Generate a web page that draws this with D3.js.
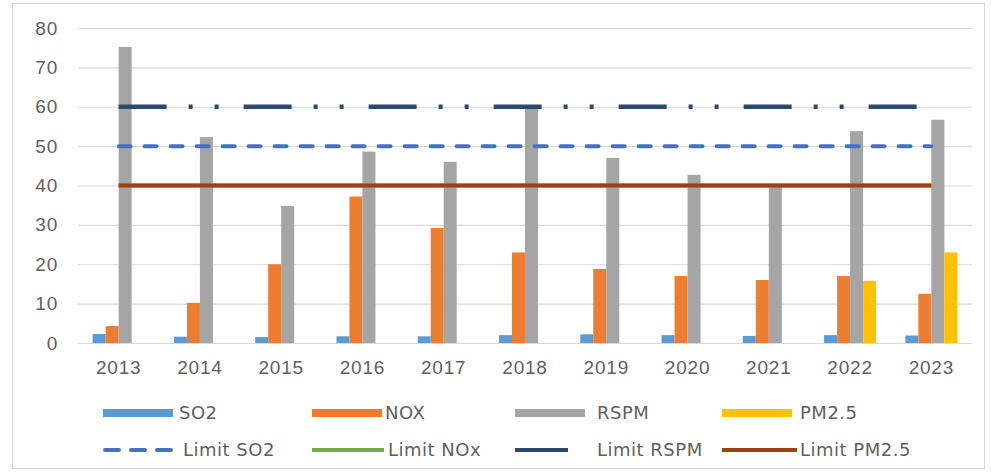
<!DOCTYPE html>
<html>
<head>
<meta charset="utf-8">
<script src="https://cdn.jsdelivr.net/npm/d3@7"></script>
<style>
  html, body { margin: 0; padding: 0; background: #fff; }
  svg { display: block; font-family: "DejaVu Sans", "Open Sans", sans-serif; }
</style>
</head>
<body>
<svg id="chart" width="994" height="474"></svg>
<script>
// Annual pollutant concentrations by year
const years = ["2013","2014","2015","2016","2017","2018","2019","2020","2021","2022","2023"];
const so2   = [2.3, 1.6, 1.5, 1.7, 1.7, 2.0, 2.2, 2.0, 1.8, 2.0, 1.9];
const nox   = [4.3, 10.2, 20, 37.2, 29.2, 23, 18.8, 17, 16, 17, 12.5];
const rspm  = [75.2, 52.3, 34.8, 48.6, 46, 60, 47, 42.7, 39.8, 53.8, 56.7];
const pm25  = [0, 0, 0, 0, 0, 0, 0, 0, 0, 15.8, 23];

// Permissible limits
const limitSO2  = 50;
const limitNOx  = 40;
const limitRSPM = 60;
const limitPM25 = 40;

const yTicks = [0, 10, 20, 30, 40, 50, 60, 70, 80];

const barSeries = [
  { name: "SO2",   values: so2,  color: "#5B9BD5" },
  { name: "NOX",   values: nox,  color: "#ED7D31" },
  { name: "RSPM",  values: rspm, color: "#A5A5A5" },
  { name: "PM2.5", values: pm25, color: "#FFC000" }
];

const limitSeries = [
  { name: "Limit SO2",   value: limitSO2,  color: "#4472C4", width: 4,   dash: "12 14", cap: "round" },
  { name: "Limit NOx",   value: limitNOx,  color: "#70AD47", width: 4,   dash: null,    cap: "butt" },
  { name: "Limit RSPM",  value: limitRSPM, color: "#2A4A6E", width: 4.5, dash: "48 22 4 22 4 25", cap: "butt" },
  { name: "Limit PM2.5", value: limitPM25, color: "#9E3F16", width: 4,   dash: null,    cap: "butt" }
];

const svg = d3.select("#chart");
const textColor = "#5F5F5F";
const gridColor = "#D9D9D9";

// Outer chart frame
svg.append("rect")
  .attr("x", 12.5).attr("y", 3.5).attr("width", 972).attr("height", 465)
  .attr("fill", "#fff").attr("stroke", "#D9D9D9");

const plot = { left: 78, right: 972, top: 28, bottom: 343 };

const x0 = d3.scaleBand().domain(years)
  .range([plot.left, plot.right]).paddingInner(0.36).paddingOuter(0.18);
const x1 = d3.scaleBand().domain(barSeries.map(s => s.name))
  .range([0, x0.bandwidth()]);
const y = d3.scaleLinear().domain([0, 80]).range([plot.bottom, plot.top]);

// Horizontal gridlines and value axis labels
const yAxis = d3.axisLeft(y).tickValues(yTicks)
  .tickSize(-(plot.right - plot.left)).tickPadding(20);
const gy = svg.append("g").attr("transform", `translate(${plot.left},0)`).call(yAxis);
gy.select(".domain").remove();
gy.selectAll(".tick line").attr("stroke", gridColor).attr("stroke-width", 1.2);
gy.selectAll(".tick text").attr("fill", textColor)
  .style("font-size", "19px").style("letter-spacing", "0.8px").attr("x", -20);

// Category axis labels
const xAxis = d3.axisBottom(x0).tickSize(0).tickPadding(18);
const gx = svg.append("g").attr("transform", `translate(0,${plot.bottom})`).call(xAxis);
gx.select(".domain").remove();
gx.selectAll(".tick text").attr("fill", textColor)
  .style("font-size", "19px").style("letter-spacing", "0.8px");

// Clustered bars
const groups = svg.append("g").selectAll("g")
  .data(years).join("g")
  .attr("transform", d => `translate(${x0(d)},0)`);

groups.selectAll("rect")
  .data((yr, i) => barSeries.map(s => ({ name: s.name, color: s.color, v: s.values[i] })))
  .join("rect")
  .attr("x", d => x1(d.name))
  .attr("width", x1.bandwidth())
  .attr("y", d => y(d.v))
  .attr("height", d => y(0) - y(d.v))
  .attr("fill", d => d.color);

// Limit lines spanning first to last category
const lineGen = d3.line().x(d => x0(d.year) + x0.bandwidth() / 2).y(d => y(d.v));
limitSeries.forEach(s => {
  svg.append("path")
    .datum(years.map(yr => ({ year: yr, v: s.value })))
    .attr("d", lineGen)
    .attr("fill", "none")
    .attr("stroke", s.color)
    .attr("stroke-width", s.width)
    .attr("stroke-linecap", s.cap)
    .attr("stroke-dasharray", s.dash);
});

// Legend: two rows, four columns
const swatchX  = [103, 312, 515, 722];
const textX1   = [179, 385, 597, 800];
const textX2   = [183, 388, 597, 800];
const swatchW2 = [70, 72, 53, 75];
const legend = svg.append("g");
barSeries.forEach((s, i) => {
  legend.append("rect")
    .attr("x", swatchX[i]).attr("y", 409).attr("width", 70).attr("height", 8)
    .attr("fill", s.color);
  legend.append("text")
    .attr("x", textX1[i]).attr("y", 413).attr("dy", "0.36em")
    .attr("fill", textColor).style("font-size", "18px").style("letter-spacing", "0.5px")
    .text(s.name);
});
limitSeries.forEach((s, i) => {
  const dashed = s.name === "Limit SO2";
  legend.append("line")
    .attr("x1", swatchX[i] + (dashed ? 2 : 0)).attr("x2", swatchX[i] + swatchW2[i])
    .attr("y1", 450).attr("y2", 450)
    .attr("stroke", s.color).attr("stroke-width", 4)
    .attr("stroke-linecap", dashed ? "round" : "butt")
    .attr("stroke-dasharray", dashed ? "14 12" : null);
  legend.append("text")
    .attr("x", textX2[i]).attr("y", 450).attr("dy", "0.36em")
    .attr("fill", textColor).style("font-size", "18px").style("letter-spacing", "0.5px")
    .text(s.name);
});
</script>
</body>
</html>
